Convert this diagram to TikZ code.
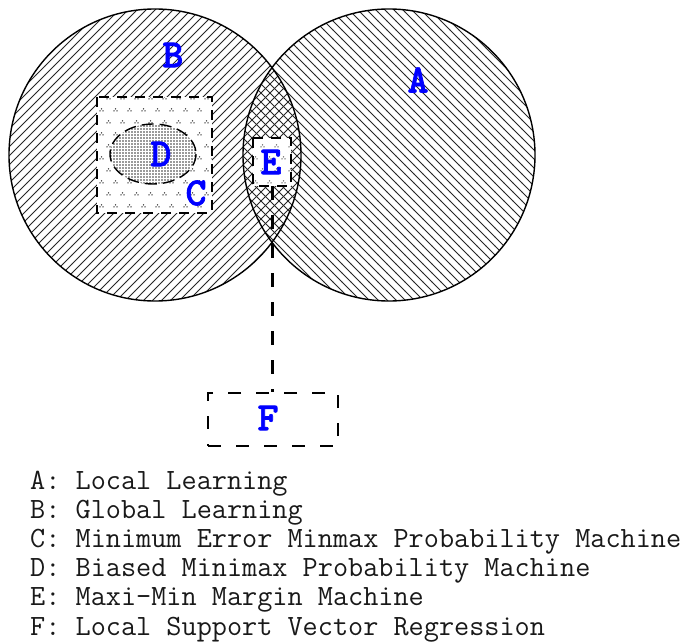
\documentclass[tikz,border=0pt]{standalone}
\usepackage{fontspec}
\newfontfamily\lblfont[FakeBold=1.6]{lmmonolt10-bold.otf}
\usetikzlibrary{patterns,patterns.meta}

% wide diagonal hatching, rising to the right
\pgfdeclarepatternformonly{wide ne lines}{\pgfqpoint{-1pt}{-1pt}}{\pgfqpoint{10pt}{10pt}}{\pgfqpoint{9pt}{9pt}}{%
  \pgfsetlinewidth{0.85pt}%
  \pgfpathmoveto{\pgfqpoint{0pt}{0pt}}%
  \pgfpathlineto{\pgfqpoint{9.1pt}{9.1pt}}%
  \pgfusepath{stroke}}
% wide diagonal hatching, falling to the right
\pgfdeclarepatternformonly{wide nw lines}{\pgfqpoint{-1pt}{-1pt}}{\pgfqpoint{10pt}{10pt}}{\pgfqpoint{9pt}{9pt}}{%
  \pgfsetlinewidth{0.85pt}%
  \pgfpathmoveto{\pgfqpoint{0pt}{9pt}}%
  \pgfpathlineto{\pgfqpoint{9.1pt}{-0.1pt}}%
  \pgfusepath{stroke}}
% small three-dot clusters, rows staggered
\pgfdeclarepatternformonly{trefoil}{\pgfpoint{-1pt}{-1pt}}{\pgfpoint{15pt}{25pt}}{\pgfpoint{14pt}{24pt}}{%
  \pgfpathcircle{\pgfpoint{3.5pt}{5.2pt}}{0.75pt}%
  \pgfpathcircle{\pgfpoint{2pt}{3pt}}{0.75pt}%
  \pgfpathcircle{\pgfpoint{5pt}{3pt}}{0.75pt}%
  \pgfpathcircle{\pgfpoint{10.5pt}{17.2pt}}{0.75pt}%
  \pgfpathcircle{\pgfpoint{9pt}{15pt}}{0.75pt}%
  \pgfpathcircle{\pgfpoint{12pt}{15pt}}{0.75pt}%
  \pgfusepath{fill}}

\definecolor{lblblue}{RGB}{0,0,255}

\tikzset{
  letter/.style={text=lblblue, inner sep=0pt,
    font=\lblfont\fontsize{40}{40}\selectfont},
  legend/.style={anchor=base west, inner sep=0pt, text=black!90,
    font=\ttfamily\fontsize{29.4}{34}\selectfont},
  setline/.style={draw=black, line width=1.4pt},
  dashbox/.style={draw=black, line width=1.5pt, dash pattern=on 12pt off 10pt},
  link/.style={draw=black, line width=3pt, dash pattern=on 14pt off 15pt},
}

\begin{document}
\begin{tikzpicture}[x=1pt, y=-1pt]
  \useasboundingbox (0,0) rectangle (691,642);

  % hatched sets
  \fill[pattern=wide ne lines, pattern color=black!85] (155,155) circle[radius=146];
  \fill[pattern=wide nw lines, pattern color=black!85] (389,155) circle[radius=146];

  % C region
  \fill[white] (97,97) rectangle (212,213);
  \fill[pattern=trefoil, pattern color=black!80] (97,97) rectangle (212,213);
  \draw[dashbox, dash pattern=on 10pt off 8pt] (97,97) rectangle (212,213);

  % D region
  \fill[white] (153,154) ellipse[x radius=43, y radius=30];
  \fill[pattern={Dots[distance=3pt,radius=0.9pt]}, pattern color=black!80]
    (153,154) ellipse[x radius=43, y radius=30];
  \draw[dashbox, line width=1.4pt, dash pattern=on 12pt off 6pt]
    (153,154) ellipse[x radius=43, y radius=30];

  % E region
  \fill[white] (253,138) rectangle (291,186);
  \fill[pattern=trefoil, pattern color=black!60] (253,138) rectangle (291,186);
  \draw[dashbox, dash pattern=on 10pt off 8pt] (253,138) rectangle (291,186);

  % set outlines
  \draw[setline] (155,155) circle[radius=146];
  \draw[setline] (389,155) circle[radius=146];

  % labels
  \node[letter] (lA) at (418,80) {A};
  \node[letter] (lB) at (173,55) {B};
  \node[letter] (lC) at (196,193) {C};
  \node[letter] (lD) at (161,154) {D};
  \node[letter] (lE) at (271,162) {E};

  % E box and F box, joined
  \node[minimum width=38pt, minimum height=48pt, inner sep=0pt] (Ebox) at (272,162) {};
  \node[dashbox, dash pattern=on 13pt off 15pt, minimum width=130pt, minimum height=53pt,
        inner sep=0pt] (Fbox) at (273,419.5) {};
  \node[letter] (lF) at (268,418) {F};
  \draw[link] (Ebox.south) -- (Ebox.south |- Fbox.north);

  % legend
  \node[legend] (tA) at (30,489.0) {A: Local Learning};
  \node[legend] (tB) at (30,518.2) {B: Global Learning};
  \node[legend] (tC) at (30,547.4) {C: Minimum Error Minmax Probability Machine};
  \node[legend] (tD) at (30,576.6) {D: Biased Minimax Probability Machine};
  \node[legend] (tE) at (30,605.8) {E: Maxi-Min Margin Machine};
  \node[legend] (tF) at (30,635.0) {F: Local Support Vector Regression};
\end{tikzpicture}
\end{document}
